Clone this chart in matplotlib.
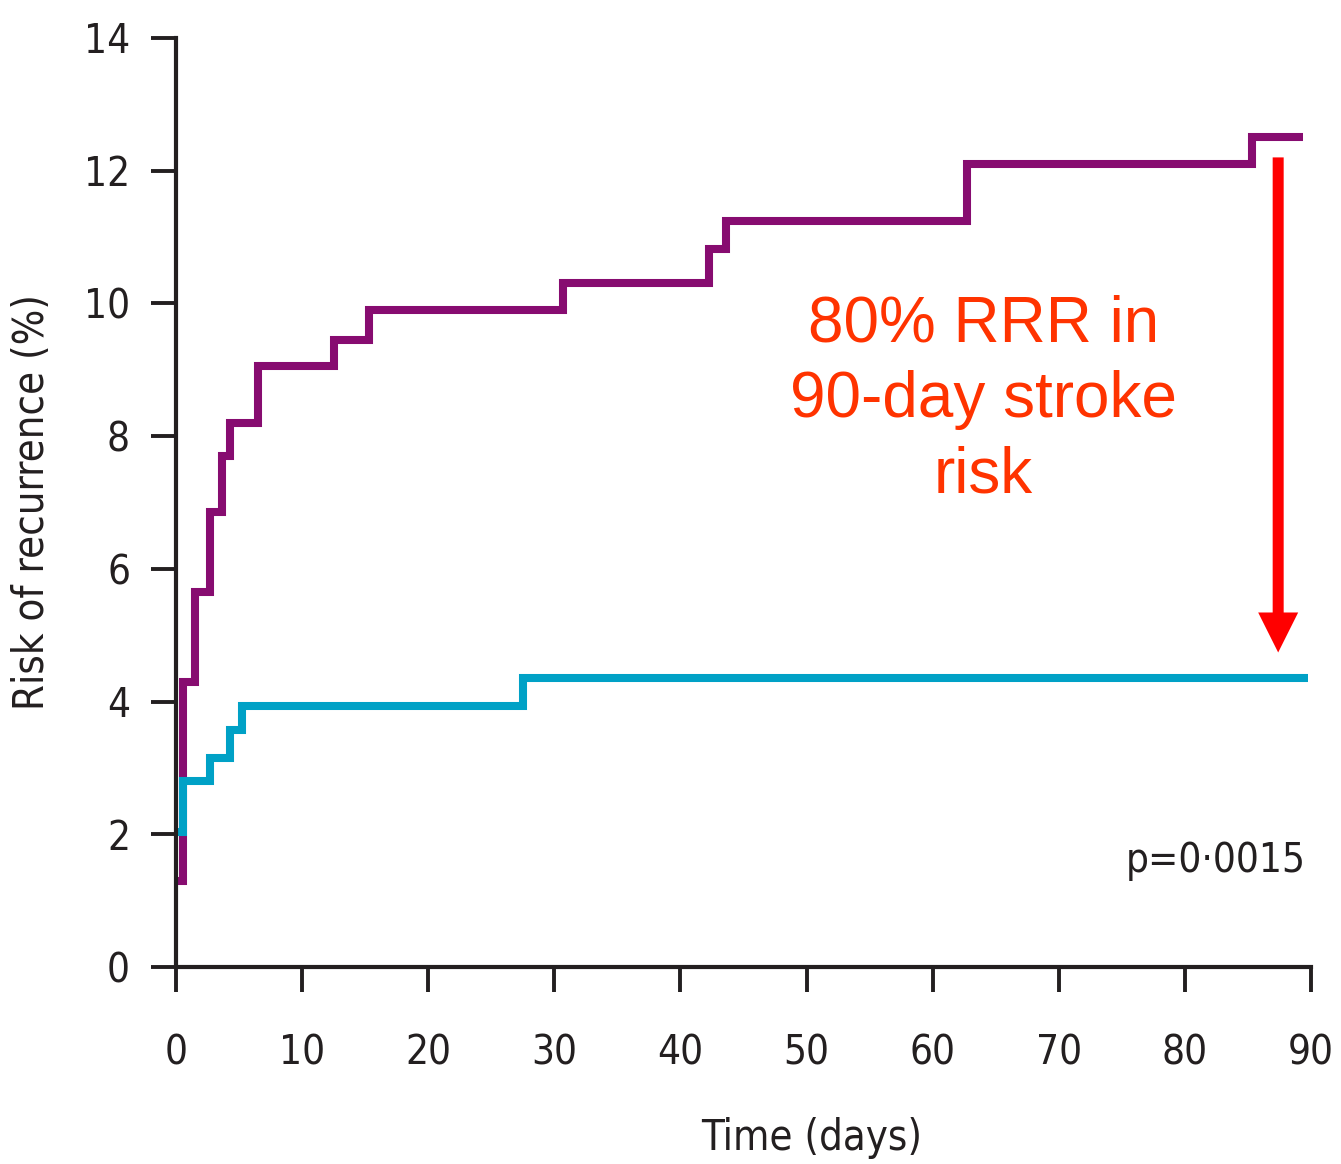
import matplotlib.pyplot as plt

# Kaplan-Meier style step data
purple_days = [0, 0.55, 1.5, 2.7, 3.65, 4.3, 6.5, 12.5, 15.3, 30.7, 42.3, 43.6, 62.7, 85.3, 89.4]
purple_risk = [1.3, 4.3, 5.65, 6.85, 7.7, 8.2, 9.05, 9.45, 9.9, 10.3, 10.82, 11.24, 12.1, 12.5, 12.5]

blue_days = [0, 0.55, 2.7, 4.3, 5.2, 27.5, 89.8]
blue_risk = [2.03, 2.8, 3.15, 3.57, 3.93, 4.36, 4.36]

x_ticks = [0, 10, 20, 30, 40, 50, 60, 70, 80, 90]
y_ticks = [0, 2, 4, 6, 8, 10, 12, 14]

ink = '#231F20'
purple = '#870C70'
blue = '#00A1C6'

fig = plt.figure(figsize=(13.41, 11.64), dpi=100)
ax = fig.add_axes([0.1312, 0.1692, 0.8464, 0.7982])

ax.step(purple_days, purple_risk, where='post', color=purple, lw=5.8,
        solid_joinstyle='miter', solid_capstyle='butt')
ax.step(blue_days, blue_risk, where='post', color=blue, lw=5.8,
        solid_joinstyle='miter', solid_capstyle='butt')

ax.set_xlim(0, 90)
ax.set_ylim(0, 14)
ax.set_xticks(x_ticks)
ax.set_yticks(y_ticks)

for s in ['top', 'right']:
    ax.spines[s].set_visible(False)
for s in ['left', 'bottom']:
    ax.spines[s].set_linewidth(3)
    ax.spines[s].set_color(ink)

ax.tick_params(axis='both', direction='out', length=18, width=2.8, color=ink,
               labelcolor=ink, labelsize=29)
ax.tick_params(axis='x', pad=30)
ax.tick_params(axis='y', pad=15)
for lab in ax.get_xticklabels() + ax.get_yticklabels():
    lab.set_fontstretch('condensed')

ax.set_xlabel('Time (days)', fontsize=30, color=ink, fontstretch='condensed')
ax.xaxis.set_label_coords(0.56, -0.161)
ax.set_ylabel('Risk of recurrence (%)', fontsize=30, color=ink, labelpad=22,
              fontstretch='condensed')

ax.text(89.6, 1.6, 'p=0·0015', ha='right', va='center', fontsize=29,
        color=ink, fontstretch='condensed')

ax.text(64.0, 8.55, '80% RRR in\n90-day stroke\nrisk', ha='center', va='center',
        fontsize=46, color='#FF3300', family=['Liberation Sans', 'DejaVu Sans'],
        linespacing=1.33)

ax.annotate('', xy=(87.4, 4.74), xytext=(87.4, 12.2),
            arrowprops=dict(arrowstyle='simple,head_length=0.8,head_width=0.8,tail_width=0.22',
                            color='#FF0000', lw=0, mutation_scale=36,
                            shrinkA=0, shrinkB=0))

fig.savefig('out.png', dpi=100)
